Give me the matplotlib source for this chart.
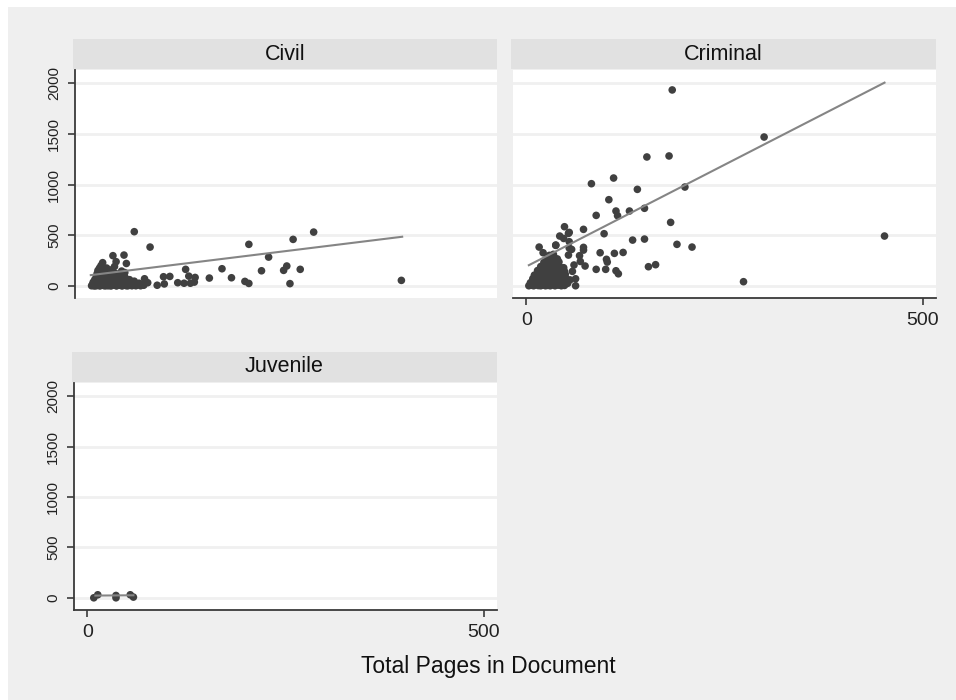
import matplotlib
matplotlib.use("Agg")
import matplotlib.pyplot as plt
from matplotlib.patches import Rectangle

plt.rcParams['font.family'] = ['Liberation Sans', 'DejaVu Sans']

# ---- data ----
y_ticks = [0, 500, 1000, 1500, 2000]
x_ticks = [0, 500]

civil_pages = [
    58, 78, 31, 45, 18, 35, 48, 123, 95, 103,
    113, 121, 129, 127, 135, 134, 153, 169, 181, 198,
    203, 203, 219, 228, 247, 251, 259, 255, 268, 285,
    396, 71, 75, 87, 96,
    4, 5, 6, 7, 8, 9, 10, 10, 11, 12,
    12, 13, 14, 15, 15, 16, 17, 18, 19, 20,
    20, 21, 22, 23, 24, 25, 25, 26, 27, 28,
    29, 30, 31, 32, 33, 34, 35, 36, 37, 38,
    39, 40, 41, 42, 43, 44, 45, 46, 47, 48,
    50, 52, 54, 56, 58, 60, 62, 64, 66, 68,
    70, 8, 14, 22, 28, 36, 42, 50, 12, 26,
    40, 55, 16, 33, 46,
]
civil_value = [
    534, 382, 297, 303, 228, 238, 220, 162, 89, 92,
    30, 25, 25, 95, 82, 36, 76, 168, 79, 43,
    23, 409, 148, 283, 152, 195, 458, 21, 162, 530,
    53, 69, 30, 5, 18,
    0, 10, 35, 0, 60, 15, 90, 0, 120, 30,
    150, 5, 175, 45, 0, 200, 80, 20, 140, 0,
    60, 110, 10, 175, 40, 0, 95, 130, 20, 70,
    0, 160, 45, 10, 125, 85, 0, 30, 115, 60,
    5, 90, 20, 145, 0, 55, 100, 15, 75, 0,
    35, 60, 5, 20, 45, 0, 10, 25, 0, 15,
    5, 0, 0, 0, 0, 0, 0, 0, 20, 5,
    10, 0, 110, 190, 130,
]
civil_fit_x = [3, 397]
civil_fit_y = [105, 484]

criminal_pages = [
    184, 300, 152, 180, 110, 82, 140, 200, 104, 88,
    113, 115, 130, 149, 182, 452, 48, 72, 98, 54,
    42, 37, 134, 149, 190, 209, 93, 111, 122, 101,
    102, 88, 100, 113, 116, 154, 163, 274, 72, 72,
    67, 68, 74, 60, 58, 62, 62, 16, 21, 37,
    47, 53, 54, 57, 53, 54,
    3, 6, 9, 12, 15, 18, 21, 24, 27, 30, 33, 36, 40, 44, 48,
    5, 10, 14, 19, 23, 28, 32, 37, 42, 47, 52,
    8, 13, 17, 22, 26, 31, 35, 40, 45, 50, 55,
    10, 16, 20, 25, 29, 34, 39, 44, 49,
    14, 19, 24, 28, 33, 38, 43, 48,
    18, 23, 27, 32, 37, 42, 47,
    22, 27, 31, 36, 41,
    26, 30, 35, 39,
    29, 34,
]
criminal_value = [
    1934, 1469, 1272, 1282, 1064, 1008, 952, 975, 850, 695,
    738, 692, 738, 765, 626, 491, 583, 557, 514, 527,
    491, 399, 451, 461, 409, 382, 326, 320, 329, 261,
    234, 162, 162, 148, 118, 188, 208, 40, 379, 352,
    297, 240, 195, 205, 142, 69, 0, 382, 326, 402,
    467, 517, 372, 359, 303, 435,
    0, 5, 0, 10, 2, 0, 8, 0, 4, 0, 12, 0, 6, 0, 3,
    30, 25, 35, 28, 40, 22, 33, 26, 38, 30, 24,
    70, 65, 78, 60, 72, 80, 68, 75, 62, 70, 58,
    105, 115, 100, 120, 110, 108, 118, 102, 112,
    150, 145, 158, 140, 155, 148, 160, 142,
    190, 185, 195, 180, 200, 188, 178,
    230, 225, 240, 222, 235,
    270, 262, 280, 265,
    300, 310,
]
criminal_fit_x = [3, 452]
criminal_fit_y = [203, 2006]

juvenile_pages = [8, 13, 36, 36, 54, 58]
juvenile_value = [0, 30, 23, 0, 30, 7]
juvenile_fit_x = [10, 58]
juvenile_fit_y = [22, 25]

# ---- figure ----
W, H = 956, 700
dark = '#3a3a3a'


def box(l, t, r, b):
    return [l / W, 1 - b / H, (r - l) / W, (b - t) / H]


fig = plt.figure(figsize=(W / 100, H / 100), dpi=100)
fig.patch.set_facecolor('white')
fig.add_artist(Rectangle((8 / W, 0), 1, 1 - 7 / H, transform=fig.transFigure,
                         facecolor='#efefef', edgecolor='none', zorder=-5))


def panel(rect, title, x, y, fx, fy, show_x, show_y):
    l, t, r, b = rect
    ax = fig.add_axes(box(l, t, r, b))
    ax.set_facecolor('white')
    ax.set_xlim(-17, 517)
    ax.set_ylim(-121, 2131)
    ax.set_yticks(y_ticks)
    ax.set_xticks(x_ticks)
    ax.grid(axis='y', color='#f0f0f0', lw=2)
    ax.set_axisbelow(True)
    ax.scatter(x, y, s=30, color='#404040', edgecolors='none', zorder=3)
    ax.plot(fx, fy, color='#858585', lw=1.5, zorder=4)
    for s in ['top', 'right']:
        ax.spines[s].set_visible(False)
    for s in ['left', 'bottom']:
        ax.spines[s].set_color(dark)
        ax.spines[s].set_linewidth(1.3)
    ax.tick_params(axis='y', length=5, width=1.2, color=dark, pad=5,
                   labelsize=11, labelcolor='#222222', labelrotation=90)
    ax.tick_params(axis='x', length=5, width=1.2, color=dark, pad=5,
                   labelsize=14, labelcolor='#222222')
    for lab in ax.get_yticklabels():
        lab.set_va('center')
    if not show_x:
        ax.spines['bottom'].set_visible(False)
        ax.tick_params(axis='x', bottom=False, labelbottom=False)
    if not show_y:
        ax.spines['left'].set_visible(False)
        ax.tick_params(axis='y', left=False, labelleft=False)

    st = fig.add_axes(box(l - 2, t - 31, r, t - 1))
    st.set_facecolor('#e1e1e1')
    st.set_xticks([])
    st.set_yticks([])
    for s in st.spines.values():
        s.set_visible(False)
    st.text(0.5, 0.5, title, ha='center', va='center', fontsize=15.5,
            color='#111111', transform=st.transAxes)
    return ax


panel((75, 70, 497, 298), 'Civil', civil_pages, civil_value,
      civil_fit_x, civil_fit_y, False, True)
panel((513, 70, 936, 298), 'Criminal', criminal_pages, criminal_value,
      criminal_fit_x, criminal_fit_y, True, False)
panel((74, 383, 497, 610), 'Juvenile', juvenile_pages, juvenile_value,
      juvenile_fit_x, juvenile_fit_y, True, True)

fig.text(488 / W, 1 - 667 / H, 'Total Pages in Document', ha='center',
         va='center', fontsize=16.5, color='#111111')

fig.savefig('out.png', dpi=100)
